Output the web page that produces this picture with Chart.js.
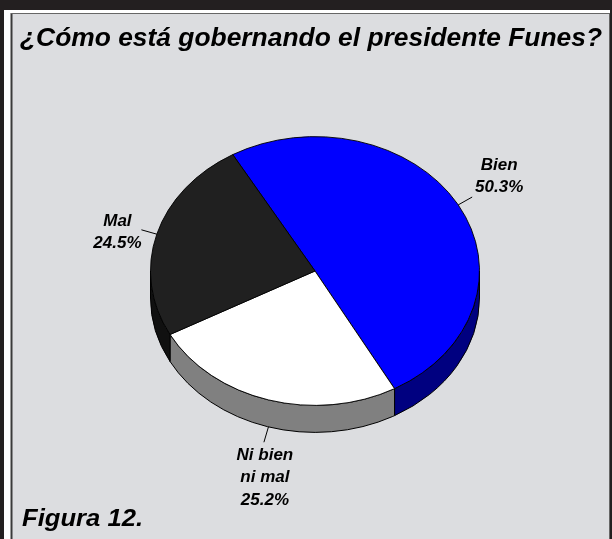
<!DOCTYPE html>
<html><head><meta charset="utf-8">
<script src="https://cdn.jsdelivr.net/npm/chart.js@4/dist/chart.umd.min.js"></script>
<style>html,body{margin:0;padding:0;background:#dcdde0;overflow:hidden}#wrap{width:612px;height:539px;position:relative}</style>
</head><body><div id="wrap"><canvas id="c"></canvas></div>
<script>
// ---- data ----
const categories = ["Bien", "Ni bien ni mal", "Mal"];
const categoryLines = [["Bien"], ["Ni bien", "ni mal"], ["Mal"]];
const values = [50.3, 25.2, 24.5];
const valueLabels = ["50.3%", "25.2%", "24.5%"];
const titleText = "¿Cómo está gobernando el presidente Funes?";
const captionText = "Figura 12.";
// ---- styles ----
const topColors = ["#0000ff", "#ffffff", "#202020"];
const sideColors = ["#000080", "#808080", "#101010"];
const TILT = 0.817, DEPTH = 27, LEADER = 16;
const labelShift = [[27, -22], [1, 34], [-24, 1]];
const FONT = '"Liberation Sans", Arial, sans-serif';

function frameAndText(chart) {
  const ctx = chart.ctx, W = chart.width, H = chart.height;
  ctx.save();
  ctx.fillStyle = '#dcdde0'; ctx.fillRect(0, 0, W, H);
  ctx.fillStyle = '#ffffff'; ctx.fillRect(4, 10, W - 6, 3); ctx.fillRect(4, 10, 7, H);
  ctx.fillStyle = '#231f20';
  ctx.fillRect(0, 0, W, 10); ctx.fillRect(0, 0, 4, H); ctx.fillRect(W - 2, 0, 2, H);
  ctx.fillStyle = '#3a3a3a'; ctx.fillRect(10.5, 13, 2, H);
  ctx.fillStyle = '#666'; ctx.fillRect(11, 13, W - 13, 1); ctx.fillRect(W - 3, 13, 1, H);
  // title
  ctx.fillStyle = '#000';
  ctx.font = 'italic bold 26px ' + FONT;
  ctx.textBaseline = 'alphabetic'; ctx.textAlign = 'left';
  const tw = ctx.measureText(titleText).width, target = 582;
  ctx.save(); ctx.translate(20, 46); ctx.scale(target / tw, 1); ctx.fillText(titleText, 0, 0); ctx.restore();
  ctx.font = 'italic bold 24px ' + FONT;
  const cw = ctx.measureText(captionText).width;
  ctx.save(); ctx.translate(22, 526); ctx.scale(121 / cw, 1); ctx.fillText(captionText, 0, 0); ctx.restore();
  ctx.restore();
}

const pie3d = {
  id: 'pie3d',
  beforeDraw(chart) { frameAndText(chart); },
  beforeDatasetsDraw(chart) {
    const ctx = chart.ctx, meta = chart.getDatasetMeta(0);
    const {x: cx, y: cy, outerRadius: r} = meta.data[0];
    const ry = r * TILT;
    ctx.save();
    ctx.lineWidth = 1; ctx.strokeStyle = '#000';
    meta.data.forEach((arc, i) => {
      for (let k = -2; k <= 2; k++) {
        const lo = Math.max(arc.startAngle + k * 2 * Math.PI, 0);
        const hi = Math.min(arc.endAngle + k * 2 * Math.PI, Math.PI);
        if (hi <= lo) continue;
        ctx.beginPath();
        ctx.ellipse(cx, cy, r, ry, 0, lo, hi, false);
        ctx.lineTo(cx + r * Math.cos(hi), cy + ry * Math.sin(hi) + DEPTH);
        ctx.ellipse(cx, cy + DEPTH, r, ry, 0, hi, lo, true);
        ctx.closePath();
        ctx.fillStyle = sideColors[i]; ctx.fill(); ctx.stroke();
      }
    });
    ctx.restore();
    ctx.save();
    ctx.translate(cx, cy); ctx.scale(1, TILT); ctx.translate(-cx, -cy);
  },
  afterDatasetsDraw(chart) {
    const ctx = chart.ctx;
    ctx.restore();
    const meta = chart.getDatasetMeta(0);
    const {x: cx, y: cy, outerRadius: r} = meta.data[0];
    const ry = r * TILT;
    ctx.save();
    ctx.font = 'italic bold 17px ' + FONT;
    ctx.textAlign = 'center'; ctx.textBaseline = 'alphabetic'; ctx.fillStyle = '#000';
    ctx.strokeStyle = '#000'; ctx.lineWidth = 1;
    meta.data.forEach((arc, i) => {
      const mid = (arc.startAngle + arc.endAngle) / 2;
      const c = Math.cos(mid), s = Math.sin(mid);
      const ex = cx + r * c, ey = cy + ry * s + (s > 0 ? DEPTH : 0);
      const lx = ex + LEADER * c, ly = ey + LEADER * s;
      ctx.beginPath(); ctx.moveTo(ex, ey); ctx.lineTo(lx, ly); ctx.stroke();
      const lines = categoryLines[i].concat([valueLabels[i]]);
      const bx = lx + labelShift[i][0], by = ly + labelShift[i][1];
      const LH = 22.5;
      let y = by - (lines.length - 1) * LH / 2 + 6;
      lines.forEach(t => { ctx.fillText(t, bx, y); y += LH; });
    });
    ctx.restore();
  }
};

new Chart(document.getElementById('c'), {
  type: 'pie',
  data: {
    labels: categories,
    datasets: [{
      data: values,
      backgroundColor: topColors,
      borderColor: '#000',
      borderWidth: 1,
      hoverOffset: 0
    }]
  },
  options: {
    responsive: true,
    maintainAspectRatio: false,
    animation: false,
    rotation: -30,
    layout: { padding: { left: 150, right: 132, top: 106, bottom: 103 } },
    plugins: { legend: { display: false }, tooltip: { enabled: false }, title: { display: false } },
    events: []
  },
  plugins: [pie3d]
});
</script></body></html>
